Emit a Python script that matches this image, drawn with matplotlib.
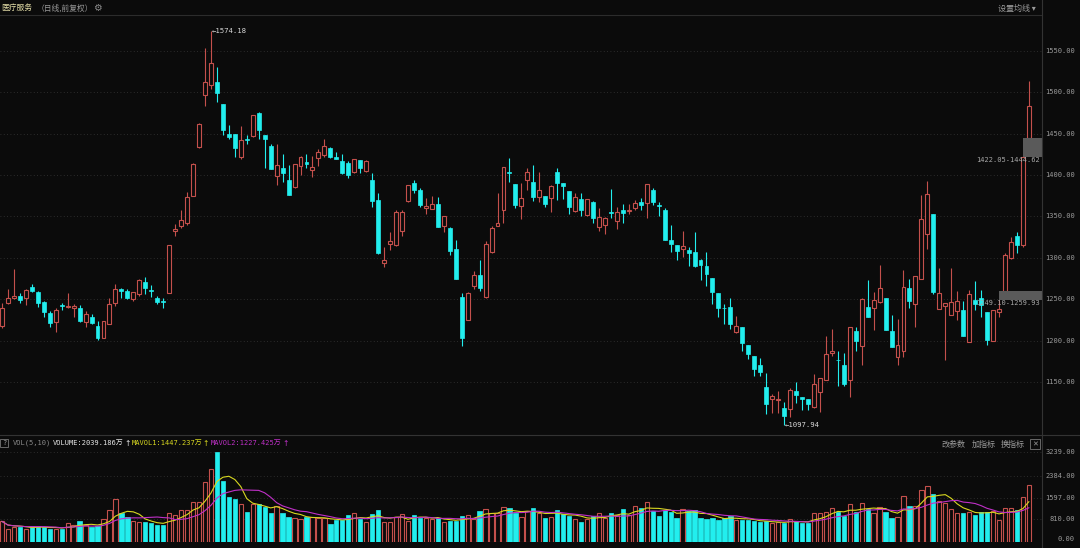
import matplotlib
matplotlib.use('Agg')
import matplotlib.pyplot as plt
import numpy as np
import pandas as pd
from matplotlib.lines import Line2D
from matplotlib.patches import Rectangle

# daily K-line, 医疗服务 index
opens = [1218, 1246, 1251, 1254, 1251, 1265, 1259, 1247, 1233, 1222,
         1243, 1241, 1239, 1240, 1222, 1228, 1218, 1203, 1220, 1245,
         1262, 1260, 1250, 1256, 1271, 1261, 1251, 1248, 1258, 1332,
         1338, 1342, 1375, 1434, 1497, 1509, 1512, 1486, 1450, 1450,
         1422, 1444, 1447, 1475, 1448, 1435, 1399, 1408, 1394, 1386,
         1411, 1416, 1406, 1421, 1424, 1433, 1422, 1417, 1415, 1404,
         1418, 1405, 1394, 1370, 1294, 1317, 1316, 1332, 1369, 1391,
         1382, 1360, 1359, 1365, 1338, 1336, 1311, 1253, 1225, 1266,
         1279, 1253, 1307, 1339, 1358, 1404, 1389, 1363, 1394, 1392,
         1373, 1375, 1372, 1404, 1391, 1381, 1357, 1371, 1352, 1368,
         1337, 1340, 1355, 1344, 1358, 1357, 1360, 1367, 1366, 1382,
         1364, 1358, 1321, 1316, 1311, 1310, 1307, 1297, 1290, 1276,
         1257, 1240, 1241, 1210, 1217, 1195, 1181, 1171, 1144, 1130,
         1128, 1119, 1118, 1139, 1132, 1129, 1120, 1138, 1152, 1185,
         1177, 1170, 1152, 1212, 1193, 1241, 1240, 1247, 1251, 1212,
         1180, 1188, 1263, 1244, 1275, 1329, 1353, 1238, 1242, 1231,
         1236, 1237, 1198, 1249, 1251, 1234, 1200, 1235, 1260, 1300,
         1327, 1315, 1444.62]
highs = [1245, 1262, 1287, 1257, 1262, 1268, 1260, 1248, 1236, 1240,
         1246, 1257, 1244, 1243, 1236, 1232, 1224, 1224, 1252, 1269,
         1264, 1262, 1259, 1275, 1277, 1267, 1254, 1252, 1316, 1341,
         1358, 1380, 1415, 1463, 1554, 1574.18, 1530, 1486, 1460, 1450,
         1459, 1448, 1472, 1476, 1448, 1437, 1437, 1425, 1412, 1414,
         1423, 1425, 1423, 1431, 1443, 1434, 1428, 1425, 1417, 1420,
         1418, 1418, 1402, 1378, 1313, 1331, 1358, 1358, 1388, 1394,
         1384, 1372, 1375, 1373, 1351, 1337, 1322, 1257, 1259, 1284,
         1297, 1320, 1339, 1378, 1410, 1421, 1389, 1390, 1409, 1412,
         1404, 1375, 1388, 1408, 1391, 1381, 1378, 1378, 1371, 1369,
         1360, 1349, 1383, 1362, 1365, 1365, 1370, 1372, 1389, 1384,
         1367, 1360, 1340, 1316, 1333, 1313, 1331, 1299, 1307, 1276,
         1257, 1244, 1251, 1230, 1217, 1195, 1181, 1179, 1161, 1136,
         1139, 1126, 1143, 1150, 1132, 1129, 1160, 1155, 1205, 1214,
         1187, 1185, 1217, 1216, 1252, 1273, 1259, 1291, 1251, 1231,
         1226, 1285, 1275, 1278, 1376, 1393, 1353, 1288, 1245, 1288,
         1260, 1248, 1261, 1272, 1261, 1234, 1237, 1249.10, 1306, 1325,
         1331, 1422.05, 1514]
lows = [1215, 1244, 1250, 1246, 1243, 1259, 1241, 1229, 1216, 1210,
        1237, 1240, 1229, 1223, 1216, 1220, 1201, 1203, 1220, 1242,
        1252, 1250, 1248, 1254, 1256, 1253, 1244, 1240, 1258, 1327,
        1336, 1340, 1375, 1433, 1484, 1504, 1488, 1449, 1443, 1422,
        1419, 1438, 1446, 1443, 1409, 1407, 1388, 1392, 1376, 1385,
        1400, 1409, 1398, 1411, 1422, 1421, 1419, 1401, 1396, 1403,
        1403, 1404, 1361, 1305, 1289, 1310, 1314, 1327, 1368, 1378,
        1361, 1353, 1359, 1337, 1331, 1304, 1274, 1194, 1225, 1262,
        1260, 1251, 1306, 1338, 1342, 1392, 1360, 1347, 1382, 1369,
        1368, 1361, 1356, 1370, 1371, 1353, 1356, 1350, 1350, 1342,
        1333, 1329, 1348, 1335, 1342, 1353, 1358, 1358, 1348, 1364,
        1350, 1321, 1307, 1298, 1301, 1290, 1289, 1273, 1266, 1244,
        1228, 1220, 1214, 1209, 1188, 1178, 1157, 1157, 1111, 1112,
        1112, 1097.94, 1108, 1125, 1116, 1116, 1119, 1114, 1152, 1181,
        1145, 1145, 1132, 1187, 1171, 1228, 1213, 1245, 1213, 1192,
        1170, 1180, 1240, 1216, 1274, 1311, 1256, 1238, 1176, 1231,
        1225, 1205, 1198, 1237, 1228, 1195, 1200, 1228, 1259.93, 1299,
        1306, 1313, 1444.62]
closes = [1240, 1252, 1254, 1249, 1261, 1260, 1246, 1234, 1221, 1237,
          1242, 1242, 1242, 1224, 1232, 1221, 1203, 1224, 1244, 1262,
          1260, 1252, 1259, 1273, 1263, 1260, 1247, 1247, 1315, 1335,
          1346, 1373, 1413, 1462, 1512, 1535, 1499, 1455, 1446, 1433,
          1442, 1442, 1472, 1454, 1444, 1407, 1412, 1403, 1376, 1414,
          1422, 1413, 1410, 1428, 1435, 1422, 1420, 1402, 1400, 1420,
          1409, 1417, 1369, 1306, 1298, 1320, 1356, 1355, 1388, 1382,
          1364, 1363, 1365, 1337, 1350, 1308, 1275, 1203, 1258, 1279,
          1264, 1317, 1336, 1342, 1410, 1403, 1364, 1372, 1404, 1373,
          1382, 1365, 1387, 1391, 1387, 1361, 1373, 1358, 1371, 1348,
          1349, 1348, 1354, 1356, 1354, 1358, 1366, 1364, 1389, 1367,
          1363, 1322, 1317, 1308, 1314, 1306, 1290, 1291, 1281, 1259,
          1240, 1239, 1220, 1218, 1197, 1184, 1166, 1162, 1124, 1133,
          1129, 1109, 1140, 1134, 1129, 1123, 1147, 1155, 1184, 1188,
          1176, 1147, 1217, 1199, 1250, 1229, 1249, 1264, 1213, 1192,
          1195, 1265, 1248, 1278, 1347, 1377, 1259, 1257, 1245, 1247,
          1248, 1205, 1256, 1244, 1243, 1201, 1237, 1238, 1303, 1319,
          1315, 1422.05, 1484]
# volume, unit 万
volumes = [740, 481, 528, 540, 470, 563, 563, 540, 470, 470,
           481, 681, 622, 740, 599, 540, 563, 834, 1150, 1561,
           1057, 916, 740, 716, 716, 681, 622, 622, 1033, 974,
           1150, 1150, 1443, 1443, 2148, 2617, 3239, 2206, 1620, 1561,
           1350, 1068, 1385, 1385, 1267, 1033, 1291, 1033, 915, 880,
           833, 892, 892, 880, 857, 657, 798, 775, 974, 1033,
           822, 716, 998, 1150, 716, 716, 892, 998, 763, 974,
           857, 880, 834, 857, 716, 740, 763, 951, 974, 834,
           1115, 1174, 1033, 1033, 1268, 1209, 1057, 892, 1115, 1209,
           1057, 857, 916, 1150, 1010, 939, 834, 716, 834, 939,
           1057, 857, 1033, 974, 1174, 974, 1303, 1233, 1444, 1115,
           951, 1150, 1092, 857, 1174, 1115, 1150, 857, 822, 880,
           798, 857, 939, 798, 798, 775, 740, 716, 740, 681,
           716, 681, 834, 740, 681, 681, 1033, 1057, 1092, 1233,
           1092, 951, 1350, 1092, 1409, 1200, 1057, 1268, 1092, 857,
           916, 1644, 1291, 1303, 1855, 2031, 1738, 1479, 1421, 1186,
           1033, 1033, 1092, 974, 1092, 1068, 1127, 798, 1209, 1233,
           1150, 1620, 2039.186]

price_ticks = [1150, 1200, 1250, 1300, 1350, 1400, 1450, 1500, 1550]
vol_ticks = [0, 810, 1597, 2384, 3239]

W, H = 1080, 548
BG = '#0b0b0b'
RED = '#c4504c'
CYAN = '#22eeee'
GRID = '#363636'
LBL = '#9a9a9a'
MONO = ['DejaVu Sans Mono', 'Noto Sans CJK SC']
CJK = ['Noto Sans CJK SC', 'DejaVu Sans']

o = np.array(opens, float)
h = np.array(highs, float)
l = np.array(lows, float)
c = np.array(closes, float)
v = np.array(volumes, float)
x = np.arange(len(o))
up = c >= o
cols = np.where(up, RED, CYAN)

fig = plt.figure(figsize=(W / 100, H / 100), dpi=100, facecolor=BG)
ax = fig.add_axes([0, 1 - 433 / H, 1042 / W, (433 - 17) / H], facecolor=BG)
axv = fig.add_axes([0, 1 - 542 / H, 1042 / W, (542 - 437) / H], facecolor=BG)
for a in (ax, axv):
    for s in a.spines.values():
        s.set_visible(False)
    a.set_xticks([])
    a.set_yticks([])
    a.set_xlim(-0.335, 174.2)

ax.set_ylim(1088.4, 1591)
axv.set_ylim(0, 3779)

# grid
for t in price_ticks:
    ax.axhline(t, color=GRID, lw=0.6, ls=(0, (1, 3)), zorder=0)
    ax.text(1075 / 1042, t, f"{t:.2f}", transform=ax.get_yaxis_transform(),
            ha='right', va='center', color=LBL, fontsize=5, family=MONO)
for t in vol_ticks:
    if t > 0:
        axv.axhline(t, color=GRID, lw=0.6, ls=(0, (1, 3)), zorder=0)
    axv.text(1075 / 1042, t, f"{t:.2f}", transform=axv.get_yaxis_transform(),
             ha='right', va='bottom' if t == 0 else 'center', color=LBL,
             fontsize=5, family=MONO)

# candles
ax.vlines(x, l, h, colors=cols, lw=0.8, zorder=1)
body = np.maximum(np.abs(c - o), 0.9)
ax.bar(x[up], body[up], bottom=np.minimum(o, c)[up], width=0.66,
       facecolor=BG, edgecolor=RED, lw=0.8, zorder=2)
ax.bar(x[~up], body[~up], bottom=np.minimum(o, c)[~up], width=0.66,
       facecolor=CYAN, edgecolor=CYAN, lw=0.5, zorder=2)

# unfilled up-gaps
for i in range(len(x) - 1):
    top = l[i + 1:].min()
    bot = h[i]
    if top > bot:
        ax.add_patch(Rectangle((i, bot), 174.2 - i, top - bot,
                               facecolor='#5a5a5a', edgecolor='none', zorder=3))
        ax.text(1040 / 1042, bot, f"{bot:.2f}-{top:.2f}",
                transform=ax.get_yaxis_transform(), ha='right', va='top',
                color='#a8a8a8', fontsize=5, family=MONO, zorder=4)

# max / min markers
imax = int(np.argmax(h))
imin = int(np.argmin(l))
ax.text(imax + 0.1, h[imax], f"←{h[imax]:.2f}", ha='left', va='center',
        color='#d8d8d8', fontsize=5.2, family=MONO)
ax.text(imin + 0.1, l[imin], f"←{l[imin]:.2f}", ha='left', va='center',
        color='#d8d8d8', fontsize=5.2, family=MONO)

# volume
axv.bar(x[up], v[up], width=0.72, facecolor=BG, edgecolor=RED, lw=0.8)
axv.bar(x[~up], v[~up], width=0.72, facecolor=CYAN, edgecolor=CYAN, lw=0.5)
ma5 = pd.Series(v).rolling(5, min_periods=1).mean()
ma10 = pd.Series(v).rolling(10, min_periods=1).mean()
axv.plot(x, ma5, color='#d8d820', lw=0.8, zorder=3)
axv.plot(x, ma10, color='#c030c8', lw=0.8, zorder=3)

# frame lines
fig.add_artist(Line2D([0, 1042 / W], [1 - 15 / H] * 2, color='#2c2c2c', lw=0.8))
fig.add_artist(Line2D([0, 1], [1 - 435 / H] * 2, color='#333333', lw=0.8))
fig.add_artist(Line2D([1042 / W] * 2, [0, 1], color='#333333', lw=0.8))


def put(px, py, s, color, size=5.8, family=CJK, ha='left', **kw):
    fig.text(px / W, 1 - py / H, s, color=color, fontsize=size, family=family,
             ha=ha, va='center', **kw)


# header
put(1, 8, "医疗服务", '#e2dca6', size=5.6)
put(37, 8, "（日线,前复权）", LBL, size=5.6)
put(97, 8, "⚙", '#8a8a8a', size=7, family=['DejaVu Sans'], ha='center')
put(1036, 8, "设置均线 ▾", LBL, ha='right')

# volume header
put(4, 443, "?", LBL, size=5, family=MONO, ha='center',
    bbox=dict(boxstyle='square,pad=0.2', fc='none', ec='#777777', lw=0.6))
put(13, 443, "VOL(5,10)", '#8a8a8a', size=5, family=MONO)
put(53, 443, "VOLUME:2039.186万", '#e6e6e6', size=5, family=MONO)
put(124, 443, "↑", '#e6e6e6', size=5.5, family=['DejaVu Sans'])
put(132, 443, "MAVOL1:1447.237万", '#d8d820', size=5, family=MONO)
put(202, 443, "↑", '#d8d820', size=5.5, family=['DejaVu Sans'])
put(211, 443, "MAVOL2:1227.425万", '#c030c8', size=5, family=MONO)
put(282, 443, "↑", '#c030c8', size=5.5, family=['DejaVu Sans'])
put(942, 444, "改参数", LBL)
put(972, 444, "加指标", LBL)
put(1001, 444, "换指标", LBL)
put(1035, 444, "✕", LBL, size=5, family=['DejaVu Sans'], ha='center',
    bbox=dict(boxstyle='square,pad=0.25', fc='none', ec='#777777', lw=0.6))

fig.savefig('out.png', dpi=100, facecolor=BG)
